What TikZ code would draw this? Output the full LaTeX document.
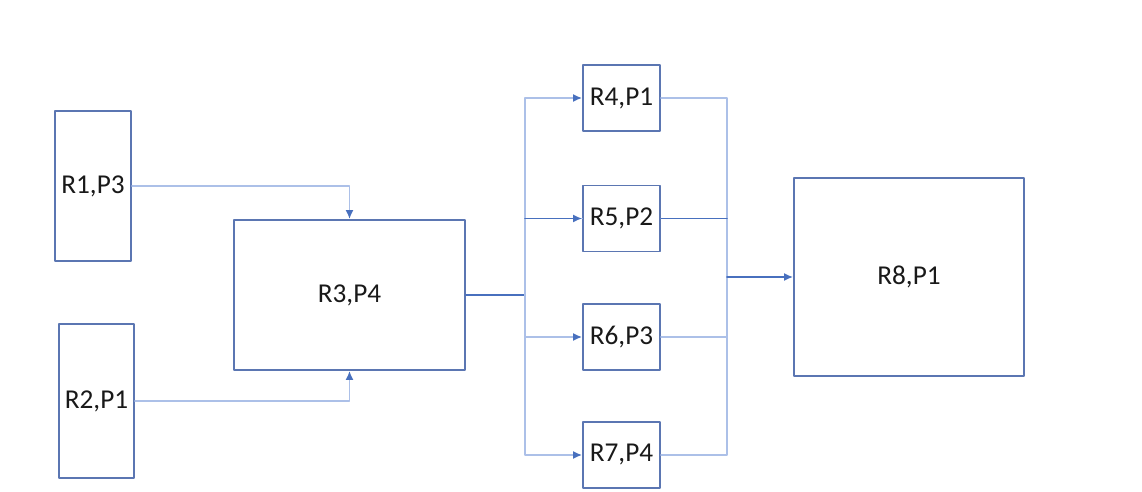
\documentclass[tikz,border=0pt]{standalone}
\usepackage{fontspec}
\setmainfont{Carlito}
\usepackage{tikz}
\usetikzlibrary{arrows.meta}

\definecolor{boxblue}{RGB}{91,118,178}
\definecolor{lineblue}{RGB}{172,192,232}
\definecolor{darkline}{RGB}{72,112,190}

\tikzset{
    res/.style={draw=boxblue,line width=1.1pt,fill=white,text=black!90,inner sep=0pt,font=\fontsize{15.5}{18}\selectfont},
    thin/.style={color=lineblue,line width=0.9pt},
    thick/.style={color=darkline,line width=0.9pt}
}

\begin{document}
\begin{tikzpicture}[line cap=round,line join=round,>={Latex[color=darkline,length=1.8mm,width=1.6mm]},x=0.02cm,y=-0.02cm]
        \useasboundingbox (0,0) rectangle (1142,492);
        \node[res,minimum width=1.52cm,minimum height=3.00cm] (r1) at (93,186) {R1,P3};
        \node[res,minimum width=1.50cm,minimum height=3.08cm] (r2) at (96.5,401) {R2,P1};
        \node[res,minimum width=4.62cm,minimum height=3.00cm] (r3) at (349.5,295) {R3,P4};
        \node[res,minimum width=1.54cm,minimum height=1.32cm] (r4) at (621.5,98) {R4,P1};
        \node[res,minimum width=1.54cm,minimum height=1.32cm] (r5) at (621.5,218.5) {R5,P2};
        \node[res,minimum width=1.54cm,minimum height=1.32cm] (r6) at (621.5,337) {R6,P3};
        \node[res,minimum width=1.54cm,minimum height=1.32cm] (r7) at (621.5,455) {R7,P4};
        \node[res,minimum width=4.60cm,minimum height=3.96cm] (r8) at (909,277) {R8,P1};
        \coordinate (split) at (525,295);
        \coordinate (join) at (727,277);
        \draw [thin,->] (r1.east) -| (r3.north);
        \draw [thin,->] (r2.east) -| (r3.south);
        \draw [thick] (r3.east) -- (split);
        \draw [thin,->] (split) |- (r4.west);
        \draw [thin] (split) |- (r5.west);
        \draw [thick,->] (split |- r5.west) -- (r5.west);
        \draw [thin,->] (split) |- (r6.west);
        \draw [thin,->] (split) |- (r7.west);
        \draw [thin] (r4.east) -| (join);
        \draw [thin] (r5.east) -| (join);
        \draw [thick] (r5.east) -- (join |- r5.east);
        \draw [thin] (r6.east) -| (join);
        \draw [thin] (r7.east) -| (join);
        \draw [thick,->] (join) -- (r8.west);
    \end{tikzpicture}
\end{document}
